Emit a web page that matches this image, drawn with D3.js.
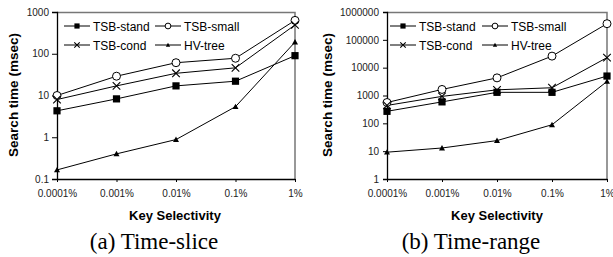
<!DOCTYPE html>
<html><head><meta charset="utf-8">
<script src="https://cdn.jsdelivr.net/npm/d3@7"></script>
<style>
body{margin:0;background:#fff;}
svg{display:block;}
</style></head>
<body>
<svg id="c" width="613" height="257"></svg>
<script>
const categories = ["0.0001%","0.001%","0.01%","0.1%","1%"];
const seriesNames = ["TSB-stand","TSB-small","TSB-cond","HV-tree"];
const markers = ["square","circle","cross","triangle"];
// (a) Time-slice
const sliceStand = [4.3, 8.3, 17, 22, 90];
const sliceSmall = [10, 29, 61, 78, 630];
const sliceCond  = [8, 17, 34, 46, 490];
const sliceHV    = [0.165, 0.4, 0.88, 5.4, 190];
const sliceTicks = [0.1, 1, 10, 100, 1000];
// (b) Time-range
const rangeStand = [270, 590, 1300, 1300, 5000];
const rangeSmall = [560, 1650, 4300, 26000, 380000];
const rangeCond  = [440, 930, 1600, 1900, 23000];
const rangeHV    = [9.2, 13, 24, 89, 3200];
const rangeTicks = [1, 10, 100, 1000, 10000, 100000, 1000000];

const svg = d3.select("#c");

function marker(g, type, x, y, big) {
  const s = big ? 1 : 0.72;
  if (type === "square") {
    const h = 3.6 * s;
    g.append("rect").attr("x", x - h).attr("y", y - h).attr("width", 2*h).attr("height", 2*h).attr("fill", "#000");
  } else if (type === "circle") {
    g.append("circle").attr("cx", x).attr("cy", y).attr("r", 4 * s).attr("fill", "#fff").attr("stroke", "#000").attr("stroke-width", 1);
  } else if (type === "cross") {
    const h = 3.8 * s;
    g.append("path").attr("d", `M${x-h},${y-h}L${x+h},${y+h}M${x-h},${y+h}L${x+h},${y-h}`).attr("stroke", "#000").attr("stroke-width", 1.1);
  } else {
    const h = 3 * s;
    g.append("path").attr("d", `M${x},${y-h}L${x+h},${y+h*0.8}L${x-h},${y+h*0.8}Z`).attr("fill", "#000");
  }
}

function chart(cfg) {
  const x = d3.scalePoint().domain(categories).range([cfg.x0, cfg.x1]).padding(0);
  const y = d3.scaleLog().domain(cfg.domain).range([179, 12]);
  const g = svg.append("g");

  // plot border (top/right)
  g.append("path").attr("d", `M${cfg.x0},12.5H${cfg.x1}V179`).attr("fill", "none").attr("stroke", "#777").attr("stroke-width", 1.5);

  const ya = g.append("g").attr("transform", `translate(${cfg.x0},0)`)
    .call(d3.axisLeft(y).tickValues(cfg.ticks).tickSize(cfg.tickL).tickPadding(cfg.padL)
      .tickFormat(d => d3.format("~g")(d).replace(/e\+?/, "")));
  ya.select(".domain").attr("stroke", "#000").attr("stroke-width", 1.3);
  ya.selectAll("text").attr("font-family", "Liberation Sans, Arial, sans-serif").attr("font-size", 10).attr("fill", "#222");
  ya.selectAll("text").text(d => String(d));

  const xa = g.append("g").attr("transform", `translate(0,179)`)
    .call(d3.axisBottom(x).tickSize(3).tickPadding(8).tickSizeOuter(0));
  xa.select(".domain").attr("stroke", "#000").attr("stroke-width", 1.3);
  xa.selectAll("text").attr("font-family", "Liberation Sans, Arial, sans-serif").attr("font-size", 10).attr("fill", "#222");

  const line = d3.line().x((d, i) => x(categories[i])).y(d => y(d));
  cfg.series.forEach((vals, si) => {
    g.append("path").attr("d", line(vals)).attr("fill", "none").attr("stroke", "#000").attr("stroke-width", 1);
  });
  cfg.series.forEach((vals, si) => {
    vals.forEach((v, i) => marker(g, markers[si], x(categories[i]), y(v), true));
  });

  // legend
  seriesNames.forEach((name, si) => {
    const col = si % 2, row = Math.floor(si / 2);
    const lx = cfg.legX[col], ly = row === 0 ? 26 : 45;
    g.append("line").attr("x1", lx).attr("x2", lx + 26).attr("y1", ly).attr("y2", ly).attr("stroke", "#000").attr("stroke-width", 1);
    marker(g, markers[si], lx + 13, ly, false);
    g.append("text").attr("x", lx + 29).attr("y", ly + 4.5).text(name)
      .attr("font-family", "Liberation Sans, Arial, sans-serif").attr("font-size", 12).attr("fill", "#000");
  });

  // axis titles
  g.append("text").attr("x", cfg.xTitleX).attr("y", 220).attr("text-anchor", "middle").text("Key Selectivity")
    .attr("font-family", "Liberation Sans, Arial, sans-serif").attr("font-size", 13).attr("font-weight", "bold");
  g.append("text").attr("transform", `translate(${cfg.yTitleX},95) rotate(-90)`).attr("text-anchor", "middle").text("Search time (msec)")
    .attr("font-family", "Liberation Sans, Arial, sans-serif").attr("font-size", 13.5).attr("font-weight", "bold");
  g.append("text").attr("x", cfg.capX).attr("y", 249).attr("text-anchor", "middle").text(cfg.caption)
    .attr("font-family", "Liberation Serif, Times New Roman, serif").attr("font-size", 23);
}

chart({x0: 57, x1: 295, domain: [0.1, 1000], ticks: sliceTicks, tickL: 5, padL: 3,
  series: [sliceStand, sliceSmall, sliceCond, sliceHV], legX: [64, 155],
  xTitleX: 175, yTitleX: 18, capX: 154, caption: "(a) Time-slice"});
chart({x0: 387, x1: 607, domain: [1, 1000000], ticks: rangeTicks, tickL: 4, padL: 4,
  series: [rangeStand, rangeSmall, rangeCond, rangeHV], legX: [390, 482],
  xTitleX: 497, yTitleX: 332, capX: 471, caption: "(b) Time-range"});
</script>
</body></html>
